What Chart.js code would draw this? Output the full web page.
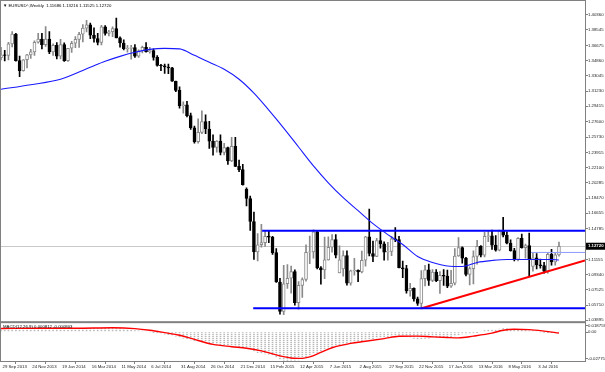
<!DOCTYPE html>
<html>
<head>
<meta charset="utf-8">
<script src="https://cdn.jsdelivr.net/npm/chart.js@4.4.1/dist/chart.umd.min.js"></script>
<style>
  html, body { margin: 0; padding: 0; background: #fff; }
</style>
</head>
<body>
<canvas id="grafico" width="605" height="372"></canvas>
<script>
// EURUSD weekly, week index 0 = 29 Sep 2013
const opens = [
  1.3522,1.3556,1.3547,1.3685,1.3802,1.3487,1.3366,1.3497,1.3555,1.3591,
  1.3705,1.3742,1.3675,1.3743,1.3591,1.3668,1.3539,1.3677,1.3486,1.3634,
  1.3693,1.3740,1.3801,1.3874,1.3913,1.3789,1.3750,1.3703,1.3888,1.3812,
  1.3831,1.3869,1.3757,1.3696,1.3628,1.3633,1.3643,1.3540,1.3603,1.3645,
  1.3593,1.3606,1.3525,1.3430,1.3425,1.3410,1.3400,1.3240,1.3131,1.2950,
  1.2960,1.2830,1.2685,1.2520,1.2630,1.2760,1.2670,1.2525,1.2450,1.2525,
  1.2390,1.2450,1.2290,1.2465,1.2225,1.2185,1.1950,1.1841,1.1567,1.1204,
  1.1290,1.1315,1.1390,1.1380,1.1195,1.0845,1.0495,1.0825,1.0890,1.0970,
  1.0600,1.0805,1.0875,1.1200,1.1205,1.1445,1.1015,1.0990,1.1110,1.1260,
  1.1350,1.0955,1.1000,1.1160,1.0830,1.0980,1.0985,1.0965,1.1105,1.1385,
  1.1185,1.1150,1.1340,1.1300,1.1200,1.1210,1.1360,1.1350,1.1015,1.1005,
  1.0740,1.0770,1.0645,1.0590,1.0885,1.0990,1.0865,1.0965,1.0860,1.0925,
  1.0915,1.0795,1.0830,1.1155,1.1255,1.1130,1.0935,1.1005,1.1150,1.1270,
  1.1165,1.1390,1.1395,1.1285,1.1225,1.1455,1.1405,1.1310,1.1220,1.1115,
  1.1365,1.1255,1.1280,1.1030,1.1135,1.1050,1.1040,1.0975,1.1175,1.1085,
  1.11686
];
const highs = [
  1.3646,1.3610,1.3705,1.3832,1.3813,1.3540,1.3499,1.3561,1.3621,1.3721,
  1.3811,1.3812,1.3893,1.3832,1.3686,1.3700,1.3739,1.3698,1.3620,1.3716,
  1.3773,1.3824,1.3915,1.3967,1.3935,1.3876,1.3811,1.3906,1.3905,1.3848,
  1.3889,1.3993,1.3771,1.3733,1.3669,1.3670,1.3677,1.3614,1.3659,1.3700,
  1.3646,1.3627,1.3547,1.3443,1.3445,1.3444,1.3405,1.3243,1.3173,1.2995,
  1.3000,1.2860,1.2706,1.2791,1.2887,1.2840,1.2762,1.2600,1.2532,1.2600,
  1.2500,1.2456,1.2570,1.2571,1.2300,1.2250,1.1970,1.1870,1.1680,1.1423,
  1.1534,1.1450,1.1450,1.1390,1.1245,1.0890,1.1043,1.1052,1.1035,1.0990,
  1.0850,1.0895,1.1290,1.1392,1.1467,1.1450,1.1030,1.1380,1.1385,1.1410,
  1.1410,1.1278,1.1216,1.1216,1.0989,1.1129,1.0990,1.1214,1.1390,1.1714,
  1.1333,1.1365,1.1460,1.1325,1.1320,1.1386,1.1495,1.1390,1.1095,1.1045,
  1.0830,1.0775,1.0665,1.0981,1.1043,1.1060,1.0993,1.0994,1.0970,1.0993,
  1.0988,1.0985,1.1245,1.1376,1.1265,1.1140,1.1025,1.1218,1.1342,1.1280,
  1.1438,1.1453,1.1465,1.1398,1.1464,1.1616,1.1445,1.1349,1.1248,1.1375,
  1.1416,1.1299,1.1428,1.1188,1.1185,1.1120,1.1080,1.1198,1.1234,1.1190,
  1.13216
];
const lows = [
  1.3496,1.3484,1.3495,1.3650,1.3480,1.3295,1.3360,1.3400,1.3512,1.3549,
  1.3695,1.3625,1.3657,1.3570,1.3548,1.3506,1.3507,1.3477,1.3477,1.3583,
  1.3642,1.3643,1.3709,1.3830,1.3749,1.3705,1.3672,1.3672,1.3791,1.3782,
  1.3772,1.3756,1.3648,1.3615,1.3586,1.3503,1.3523,1.3525,1.3579,1.3588,
  1.3574,1.3491,1.3421,1.3367,1.3333,1.3329,1.3237,1.3117,1.2920,1.2860,
  1.2816,1.2665,1.2500,1.2500,1.2615,1.2615,1.2440,1.2357,1.2394,1.2360,
  1.2360,1.2247,1.2280,1.2220,1.2160,1.2000,1.1753,1.1460,1.1114,1.1098,
  1.1262,1.1270,1.1316,1.1175,1.0840,1.0462,1.0457,1.0770,1.0713,1.0570,
  1.0520,1.0660,1.0855,1.1064,1.1130,1.1000,1.0819,1.0886,1.1106,1.1200,
  1.1134,1.0955,1.0915,1.0808,1.0807,1.0927,1.0848,1.0955,1.1035,1.1157,
  1.1087,1.1147,1.1250,1.1105,1.1105,1.1160,1.1325,1.1012,1.0897,1.0712,
  1.0675,1.0617,1.0566,1.0524,1.0798,1.0804,1.0850,1.0850,1.0710,1.0805,
  1.0778,1.0780,1.0810,1.1150,1.1070,1.0918,1.0810,1.0822,1.1057,1.1144,
  1.1145,1.1327,1.1234,1.1214,1.1217,1.1382,1.1300,1.1213,1.1098,1.1098,
  1.1250,1.1131,1.0912,1.0975,1.1002,1.1010,1.0952,1.0950,1.1045,1.1045,
  1.11525
];
const closes = [
  1.3556,1.3547,1.3685,1.3802,1.3487,1.3366,1.3497,1.3555,1.3591,1.3705,
  1.3742,1.3675,1.3743,1.3591,1.3668,1.3539,1.3677,1.3486,1.3634,1.3693,
  1.3740,1.3801,1.3874,1.3913,1.3789,1.3750,1.3703,1.3888,1.3812,1.3831,
  1.3869,1.3757,1.3696,1.3628,1.3633,1.3643,1.3540,1.3603,1.3645,1.3593,
  1.3606,1.3525,1.3430,1.3425,1.3410,1.3400,1.3240,1.3131,1.2950,1.2960,
  1.2830,1.2685,1.2520,1.2630,1.2760,1.2670,1.2525,1.2450,1.2525,1.2390,
  1.2450,1.2290,1.2465,1.2225,1.2185,1.2005,1.1841,1.1567,1.1204,1.1290,
  1.1315,1.1390,1.1380,1.1195,1.0845,1.0495,1.0825,1.0890,1.0970,1.0600,
  1.0805,1.0875,1.1200,1.1205,1.1445,1.1015,1.0990,1.1110,1.1260,1.1350,
  1.1165,1.1110,1.1160,1.0830,1.0980,1.0985,1.0965,1.1105,1.1385,1.1185,
  1.1150,1.1340,1.1300,1.1200,1.1210,1.1360,1.1350,1.1015,1.1005,1.0740,
  1.0770,1.0645,1.0590,1.0885,1.0990,1.0865,1.0965,1.0860,1.0925,1.0915,
  1.0795,1.0830,1.1155,1.1255,1.1130,1.0935,1.1005,1.1150,1.1270,1.1165,
  1.1390,1.1395,1.1285,1.1225,1.1455,1.1405,1.1310,1.1220,1.1115,1.1365,
  1.1255,1.1280,1.1115,1.1135,1.1050,1.1040,1.0975,1.1175,1.1085,1.1169,
  1.12720
];

// moving average (blue), read every few weeks
const maIdx  = [0, 8, 16, 24, 28, 32, 36, 40, 44, 48, 52, 56, 60, 64, 68, 72, 76, 80,
                84, 88, 92, 96, 100, 104, 108, 112, 116, 120, 124, 128, 132, 136, 140, 144, 148, 150];
const maVals = [1.3145, 1.3199, 1.3264, 1.3407, 1.3478, 1.3537, 1.3585, 1.3620, 1.3632, 1.3626,
                1.3549, 1.3466, 1.3383, 1.3264, 1.3098, 1.2896, 1.2682, 1.2456, 1.2231, 1.2029,
                1.1851, 1.1696, 1.1542, 1.1411, 1.1293, 1.1150, 1.1079, 1.1037, 1.1031, 1.1079,
                1.1102, 1.1114, 1.1114, 1.1114, 1.1114, 1.1108];

// drawn lines
const levelStart = [70.2, 67.8, 142.5];
const levelPrice = [1.1456, 1.0532, 1.1198];
const trendIdx = [113.1, 157];
const trendVals = [1.0532, 1.1103];

// MACD(12,26,9)
const macdMain = [
  0.0030,0.0029,0.0030,0.0033,0.0030,0.0025,0.0023,0.0024,0.0025,0.0028,
  0.0031,0.0031,0.0033,0.0030,0.0029,0.0026,0.0027,0.0023,0.0023,0.0024,
  0.0026,0.0030,0.0035,0.0040,0.0040,0.0038,0.0035,0.0038,0.0038,0.0038,
  0.0039,0.0037,0.0033,0.0028,0.0024,0.0020,0.0015,0.0012,0.0009,0.0006,
  0.0002,-0.0003,-0.0009,-0.0014,-0.0019,-0.0024,-0.0031,-0.0039,-0.0050,-0.0058,
  -0.0066,-0.0075,-0.0085,-0.0090,-0.0093,-0.0097,-0.0104,-0.0111,-0.0115,-0.0121,
  -0.0124,-0.0130,-0.0130,-0.0135,-0.0140,-0.0146,-0.0155,-0.0168,-0.0185,-0.0197,
  -0.0204,-0.0209,-0.0212,-0.0220,-0.0240,-0.0265,-0.0270,-0.0272,-0.0270,-0.0270,
  -0.0266,-0.0258,-0.0240,-0.0225,-0.0205,-0.0195,-0.0185,-0.0172,-0.0158,-0.0145,
  -0.0135,-0.0126,-0.0118,-0.0115,-0.0108,-0.0100,-0.0095,-0.0086,-0.0072,-0.0066,
  -0.0062,-0.0055,-0.0048,-0.0045,-0.0043,-0.0038,-0.0034,-0.0036,-0.0040,-0.0047,
  -0.0053,-0.0060,-0.0068,-0.0066,-0.0060,-0.0058,-0.0054,-0.0052,-0.0050,-0.0047,
  -0.0047,-0.0047,-0.0036,-0.0024,-0.0018,-0.0018,-0.0016,-0.0010,-0.0002,0.0004,
  0.0014,0.0020,0.0022,0.0022,0.0030,0.0035,0.0033,0.0028,0.0021,0.0023,
  0.0020,0.0018,0.0012,0.0009,0.0005,0.0001,-0.0004,-0.0002,-0.0001,0.0001,
  0.0008
];
const signalIdx  = [0, 10, 20, 30, 36, 40, 44, 48, 53, 57, 62, 66, 70, 75, 78, 81, 83, 86, 89,
                    94, 98, 103, 107, 112, 116, 120, 123, 127, 132, 135, 138, 142, 146, 150];
const signalVals = [0.0035, 0.0037, 0.0037, 0.0042, 0.0034, 0.0018, -0.0005, -0.0030, -0.0080, -0.0118,
                    -0.0140, -0.0155, -0.0180, -0.0228, -0.0248, -0.0252, -0.0238, -0.0195, -0.0150,
                    -0.0108, -0.0088, -0.0062, -0.0040, -0.0038, -0.0046, -0.0052, -0.0055, -0.0038,
                    -0.0010, 0.0018, 0.0028, 0.0024, 0.0010, -0.0008];

// axes
const dateTickIdx = [0, 8, 16, 24, 32, 40, 48, 56, 64, 72, 80, 88, 96, 104, 112, 120, 128, 136, 144];
const dateLabels = ['29 Sep 2013', '24 Nov 2013', '19 Jan 2014', '16 Mar 2014', '11 May 2014', '6 Jul 2014',
                    '31 Aug 2014', '26 Oct 2014', '21 Dec 2014', '15 Feb 2015', '12 Apr 2015', '7 Jun 2015',
                    '2 Aug 2015', '27 Sep 2015', '22 Nov 2015', '17 Jan 2016', '13 Mar 2016', '8 May 2016',
                    '3 Jul 2016'];
const priceTicks = [1.40360, 1.38545, 1.36675, 1.34860, 1.33045, 1.31230, 1.29415, 1.27600, 1.25730,
                    1.23915, 1.22100, 1.20285, 1.18470, 1.16655, 1.14785, 1.11155, 1.09340, 1.07525,
                    1.05710, 1.03895];
const macdTickVals = [0.0064, 0, -0.0256];
const macdTickLabels = ['0.018759', '0.00', '-0.027756'];

const titulo = '\u25BC EURUSD^,Weekly  1.11686 1.13216 1.11525 1.12720';
const macdTitulo = 'MACD(12,26,9) 0.000812 -0.000803';

document.addEventListener('DOMContentLoaded', function() {
    const fuente = { family: '"Liberation Sans", Arial, sans-serif', size: 4.3 };
    const gris = '#8a8a8a';

    const alcista = closes.map((c, i) => c >= opens[i]);
    const cuerpos = closes.map((c, i) => ({ x: i, y: [opens[i], c] }));
    const mechas = closes.map((c, i) => ({ x: i, y: [lows[i], highs[i]] }));
    const media = maIdx.map((x, i) => ({ x: x, y: maVals[i] }));
    const histo = macdMain.map((v, i) => ({ x: i, y: v }));
    const senal = signalIdx.map((x, i) => ({ x: x, y: signalVals[i] }));

    // dotted look of the MACD bars
    const pc = document.createElement('canvas');
    pc.width = 1; pc.height = 2;
    const pctx = pc.getContext('2d');
    pctx.fillStyle = '#b8b8b8';
    pctx.fillRect(0, 0, 1, 1);
    pctx.fillStyle = '#f0f0f0';
    pctx.fillRect(0, 1, 1, 1);
    const ctx = document.getElementById('grafico').getContext('2d');
    const patron = ctx.createPattern(pc, 'repeat');

    const niveles = levelStart.map((x, i) => ({
        type: 'line',
        data: [{ x: x, y: levelPrice[i] }, { x: 157, y: levelPrice[i] }],
        borderColor: i < 2 ? '#0000ff' : '#8c9cff',
        borderWidth: i < 2 ? 2 : 1,
        pointRadius: 0,
        yAxisID: 'y',
        order: 0
    }));

    const marco = {
        id: 'marco',
        beforeDatasetsDraw(chart) {
            const { ctx, chartArea, scales } = chart;
            const yp = Math.round(scales.y.getPixelForValue(closes[closes.length - 1])) + 0.5;
            ctx.save();
            ctx.strokeStyle = '#c8c8c8';
            ctx.lineWidth = 1;
            ctx.beginPath();
            ctx.moveTo(chartArea.left, yp);
            ctx.lineTo(chartArea.right, yp);
            ctx.stroke();
            ctx.restore();
        },
        afterDraw(chart) {
            const { ctx, chartArea, scales } = chart;
            const sep = scales.m.top;
            ctx.save();
            ctx.strokeStyle = '#808080';
            ctx.lineWidth = 1;
            ctx.strokeRect(0.5, 0.5, chartArea.right, chartArea.bottom);
            ctx.fillStyle = '#808080';
            ctx.fillRect(0, sep - 1, chartArea.right, 2);

            const last = closes[closes.length - 1];
            const yp = scales.y.getPixelForValue(last);
            ctx.fillStyle = '#000';
            ctx.fillRect(chartArea.right + 1, yp - 3.5, 20, 7);
            ctx.font = 'bold 4.3px "Liberation Sans", Arial, sans-serif';
            ctx.textBaseline = 'middle';
            ctx.fillStyle = '#fff';
            ctx.fillText(last.toFixed(5), chartArea.right + 3, yp);

            ctx.font = '4.3px "Liberation Sans", Arial, sans-serif';
            ctx.fillStyle = '#000';
            ctx.fillText(titulo, 3, 5.5);
            ctx.fillText(macdTitulo, 3, sep + 4.5);
            ctx.restore();
        }
    };

    new Chart(ctx, {
        type: 'bar',
        data: {
            datasets: [
                {
                    type: 'line',
                    data: media,
                    borderColor: '#1a1aff',
                    borderWidth: 1.1,
                    pointRadius: 0,
                    cubicInterpolationMode: 'monotone',
                    yAxisID: 'y',
                    order: 0
                },
                ...niveles,
                {
                    type: 'line',
                    data: trendIdx.map((x, i) => ({ x: x, y: trendVals[i] })),
                    borderColor: '#ff0000',
                    borderWidth: 2,
                    pointRadius: 0,
                    yAxisID: 'y',
                    order: 0
                },
                {
                    type: 'line',
                    data: senal,
                    borderColor: '#ff0000',
                    borderWidth: 1.4,
                    pointRadius: 0,
                    cubicInterpolationMode: 'monotone',
                    yAxisID: 'm',
                    order: 0
                },
                {
                    data: cuerpos,
                    backgroundColor: alcista.map(a => a ? '#ffffff' : '#000000'),
                    borderColor: alcista.map(a => a ? gris : '#000000'),
                    borderWidth: 1,
                    borderSkipped: false,
                    barThickness: 3,
                    grouped: false,
                    yAxisID: 'y',
                    order: 1
                },
                {
                    data: mechas,
                    backgroundColor: alcista.map(a => a ? gris : '#000000'),
                    barThickness: 1,
                    grouped: false,
                    yAxisID: 'y',
                    order: 2
                },
                {
                    data: histo,
                    backgroundColor: patron,
                    barThickness: 1,
                    grouped: false,
                    yAxisID: 'm',
                    order: 3
                }
            ]
        },
        options: {
            responsive: false,
            animation: false,
            devicePixelRatio: 1,
            layout: { padding: { left: 1, top: 1, right: 0, bottom: 0 } },
            plugins: { legend: { display: false }, tooltip: { enabled: false } },
            scales: {
                x: {
                    type: 'linear',
                    offset: false,
                    min: 0,
                    max: 157,
                    afterBuildTicks: s => { s.ticks = dateTickIdx.map(v => ({ value: v })); },
                    afterFit: s => { s.height = 11; },
                    grid: { drawOnChartArea: false, drawTicks: true, tickLength: 3, color: '#808080' },
                    border: { color: '#808080' },
                    ticks: {
                        autoSkip: false, maxRotation: 0, minRotation: 0,
                        align: 'start', labelOffset: 1.5, padding: 0,
                        color: '#222', font: fuente,
                        callback: v => dateLabels[dateTickIdx.indexOf(v)]
                    }
                },
                y: {
                    type: 'linear',
                    position: 'right',
                    stack: 'ventana',
                    stackWeight: 321,
                    min: 1.03662,
                    max: 1.41785,
                    afterBuildTicks: s => { s.ticks = priceTicks.map(v => ({ value: v })); },
                    afterFit: s => { s.width = 20; },
                    grid: { drawOnChartArea: false, drawTicks: true, tickLength: 3, color: '#808080' },
                    border: { color: '#808080' },
                    ticks: {
                        autoSkip: false, padding: 0, color: '#222', font: fuente,
                        callback: v => v.toFixed(5)
                    }
                },
                m: {
                    type: 'linear',
                    position: 'right',
                    stack: 'ventana',
                    stackWeight: 39,
                    min: -0.02775,
                    max: 0.00957,
                    afterBuildTicks: s => { s.ticks = macdTickVals.map(v => ({ value: v })); },
                    afterFit: s => { s.width = 20; },
                    grid: { drawOnChartArea: false, drawTicks: true, tickLength: 3, color: '#808080' },
                    border: { color: '#808080' },
                    ticks: {
                        autoSkip: false, padding: 0, color: '#222', font: fuente,
                        callback: (v, i) => macdTickLabels[i]
                    }
                }
            }
        },
        plugins: [marco]
    });
});
</script>
</body>
</html>
